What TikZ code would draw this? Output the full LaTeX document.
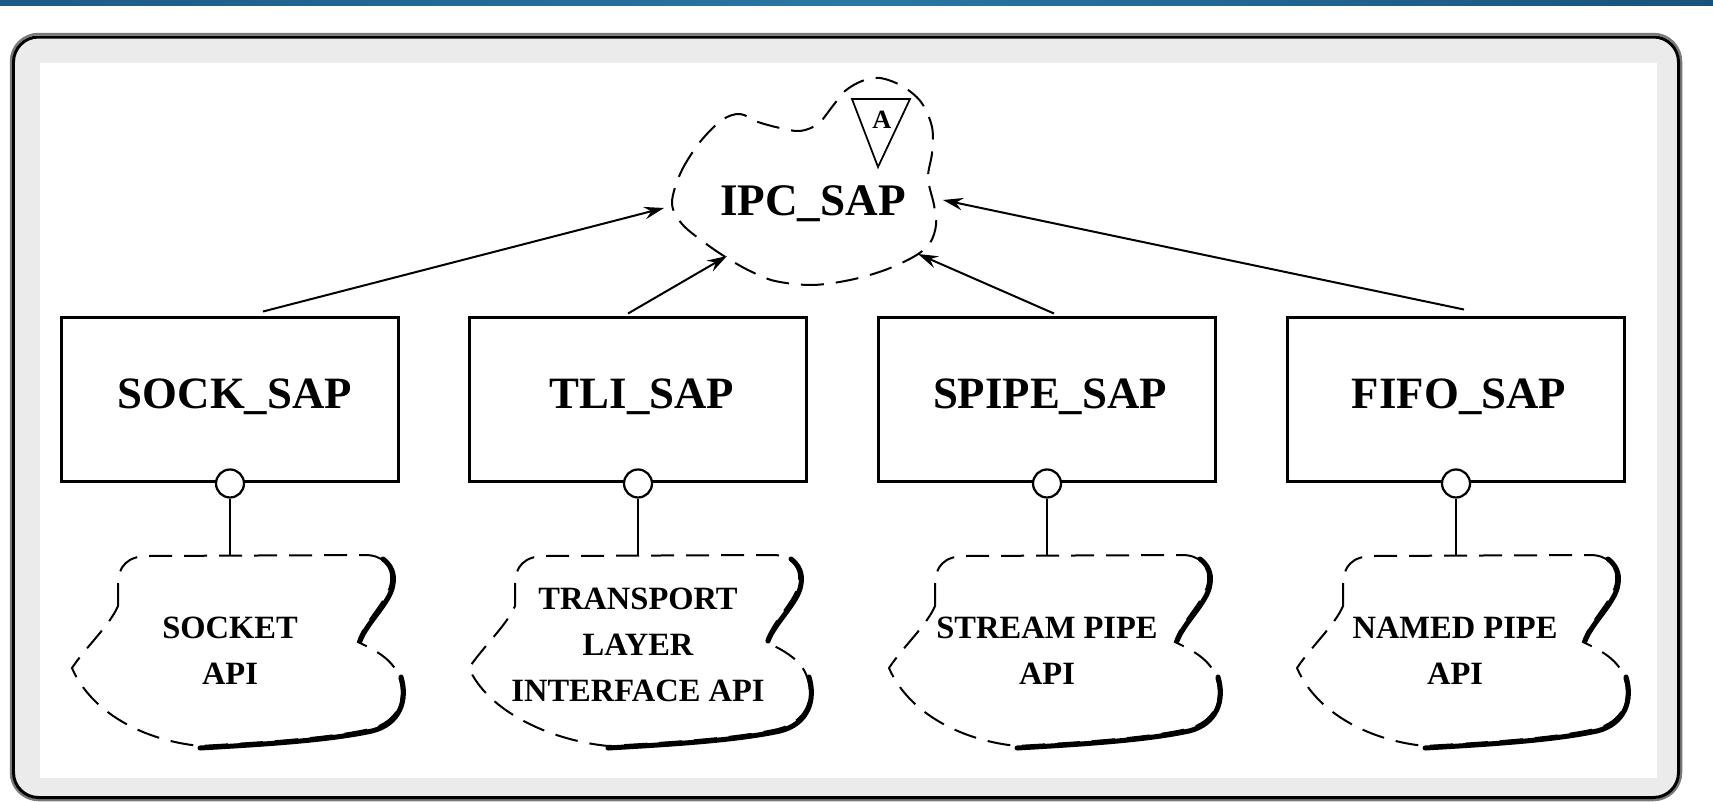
\documentclass[tikz,border=0pt]{standalone}
\usepackage{fontspec}
\setmainfont{Liberation Serif}
\usetikzlibrary{arrows.meta,calc}
\definecolor{framefill}{HTML}{EBEBEB}
\definecolor{framehalo}{HTML}{7A7A7A}
\definecolor{barL}{HTML}{1B5A86}
\definecolor{barM}{HTML}{2A77A5}
\definecolor{barR}{HTML}{17537D}
\tikzset{
 sapbox/.style={draw, line width=0.06cm, minimum width=6.74cm, minimum height=3.3cm, inner sep=0pt, fill=white},
 saplabel/.style={font=\bfseries\fontsize{25.5}{30}\selectfont, anchor=base, inner sep=0pt},
 lolli/.style={circle, draw, line width=0.045cm, fill=white, minimum size=0.56cm, inner sep=0pt},
 stemline/.style={line width=0.05cm},
 arr/.style={line width=0.04cm, -{Stealth[length=0.4cm, width=0.25cm, inset=0.14cm]}},
 clouddash/.style={line width=0.04cm, dash pattern=on 0.46cm off 0.24cm},
 cloudshadow/.style={line width=0.1cm, line cap=round},
 cloudtext/.style={font=\bfseries\fontsize{18.5}{26}\selectfont, align=center, inner sep=0pt},
}
\newcommand\apicloud[2]{%
 \begin{scope}[xshift=#1*0.02cm]
  \draw[clouddash] (-112-#2,606) -- (-112-#2,584)
    .. controls (-112-#2,566) and (-102-#2,556) .. (-82-#2,556) -- (135,555)
    .. controls (152,555) and (163,565) .. (161,582)
    .. controls (159,600) and (135,620) .. (128,642)
    .. controls (145,650) and (165,660) .. (170,680)
    .. controls (176,700) and (168,722) .. (140,729)
    .. controls (100,738) and (40,742) .. (-30,746)
    .. controls (-90,740) and (-140-#2,710) .. (-158-#2,668)
    .. controls (-145-#2,648) and (-120-#2,625) .. (-112-#2,606) -- cycle;
  \draw[cloudshadow] (153,559) .. controls (161,565) and (165,574) .. (163,584)
    .. controls (161,602) and (137,622) .. (130,641);
  \draw[cloudshadow] (171,677) .. controls (178,700) and (170,724) .. (142,731)
    .. controls (100,740) and (40,744) .. (-30,748);
 \end{scope}}
\begin{document}
\begin{tikzpicture}[x=0.02cm,y=-0.02cm]
\useasboundingbox (0,0) rectangle (1713,801);
% top bar
\shade[left color=barL, right color=barR, middle color=barM] (0,0) rectangle (1713,5);
% frame
\draw[framehalo, line width=0.05cm, rounded corners=0.55cm] (11,34) rectangle (1681,800);
\draw[fill=framefill, line width=0.06cm, rounded corners=0.5cm] (13.5,37) rectangle (1678.5,797.5);
\fill[white] (40,63) rectangle (1657,778);

% IPC_SAP cloud
\draw[clouddash] plot[smooth cycle, tension=0.55] coordinates {
 (672,203) (681,172) (700,142) (722,120) (740,114) (758,122) (780,128) (800,131)
 (818,124) (832,107) (845,91) (862,81) (880,78) (902,86) (921,102) (932,127)
 (932,153) (928,178) (934,205) (936,225) (930,243) (915,256) (885,270) (850,280)
 (812,285) (775,281) (750,271) (727,258) (705,243) (682,224)};
\draw[fill=white, line width=0.035cm, line join=miter] (852,99) -- (910,99) -- (878,167) -- cycle;
\node[font=\bfseries\fontsize{15}{17}\selectfont, inner sep=0pt, anchor=base] (abs) at (882,128) {A};
\node[font=\bfseries\fontsize{25.7}{30}\selectfont, inner sep=0pt, anchor=base] (ipc) at (813,215) {IPC\_SAP};
\coordinate (ipcW) at (664,208);
\coordinate (ipcSW) at (727,256);
\coordinate (ipcSE) at (918,254);
\coordinate (ipcE) at (943,200);

% API clouds
\apicloud{230}{0}
\apicloud{638}{11}
\apicloud{1047}{0}
\apicloud{1455}{0}
\node[cloudtext] (sockapi) at (230,651) {SOCKET\\API};
\node[cloudtext] (tliapi) at (638,645) {TRANSPORT\\LAYER\\INTERFACE API};
\node[cloudtext] (spipeapi) at (1047,651) {STREAM PIPE\\API};
\node[cloudtext] (fifoapi) at (1455,651) {NAMED PIPE\\API};
\coordinate (sockt) at (230,556);
\coordinate (tlit) at (638,556);
\coordinate (spipet) at (1047,556);
\coordinate (fifot) at (1456,556);

% boxes
\node[sapbox] (sock) at (230,399.5) {};
\node[sapbox] (tli) at (638,399.5) {};
\node[sapbox] (spipe) at (1047,399.5) {};
\node[sapbox] (fifo) at (1456,399.5) {};
\node[saplabel] (sockl) at (235,408) {SOCK\_SAP};
\node[saplabel] (tlil) at (642,408) {TLI\_SAP};
\node[saplabel] (spipel) at (1050,408) {SPIPE\_SAP};
\node[saplabel] (fifol) at (1459,408) {FIFO\_SAP};

% lollipops
\foreach \b in {sock,tli,spipe,fifo}{
  \node[lolli] (\b c) at (\b.south) {};
  \draw[stemline] (\b c.south) -- (\b t);
}

% arrows
\draw[arr] ([xshift=0.66cm,yshift=0.08cm]sock.north) -- (ipcW);
\draw[arr] ([xshift=-0.2cm,yshift=0.04cm]tli.north) -- (ipcSW);
\draw[arr] ([xshift=0.14cm,yshift=0.04cm]spipe.north) -- (ipcSE);
\draw[arr] ([xshift=0.16cm,yshift=0.12cm]fifo.north) -- (ipcE);
\end{tikzpicture}
\end{document}
